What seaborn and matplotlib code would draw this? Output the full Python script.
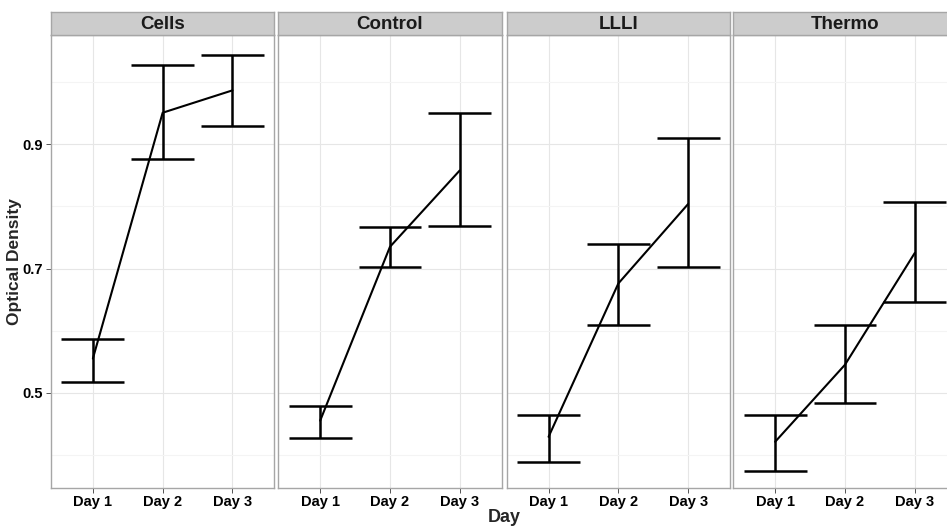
import numpy as np
import pandas as pd
import matplotlib
matplotlib.use("Agg")
import matplotlib.pyplot as plt
from matplotlib.ticker import FixedLocator
import seaborn as sns

# ---- data ----
groups = ["Cells", "Control", "LLLI", "Thermo"]
days = ["Day 1", "Day 2", "Day 3"]

cells_mean = [0.555, 0.951, 0.987]
cells_lo = [0.518, 0.876, 0.929]
cells_hi = [0.587, 1.028, 1.044]

control_mean = [0.455, 0.735, 0.858]
control_lo = [0.427, 0.703, 0.769]
control_hi = [0.479, 0.767, 0.950]

llli_mean = [0.429, 0.676, 0.804]
llli_lo = [0.388, 0.609, 0.703]
llli_hi = [0.464, 0.740, 0.910]

thermo_mean = [0.421, 0.545, 0.725]
thermo_lo = [0.374, 0.484, 0.646]
thermo_hi = [0.464, 0.609, 0.808]

y_major = [0.5, 0.7, 0.9]
y_minor = [0.4, 0.6, 0.8, 1.0]

means = [cells_mean, control_mean, llli_mean, thermo_mean]
los = [cells_lo, control_lo, llli_lo, thermo_lo]
his = [cells_hi, control_hi, llli_hi, thermo_hi]

rows = []
for g, m, lo, hi in zip(groups, means, los, his):
    for i, d in enumerate(days):
        rows.append({"Group": g, "Day": d, "pos": i, "mean": m[i], "lo": lo[i], "hi": hi[i]})
df = pd.DataFrame(rows)

# ---- styling ----
sns.set_theme(style="white")
plt.rcParams["font.family"] = ["Liberation Sans", "DejaVu Sans"]
plt.rcParams["font.weight"] = "bold"

W, H = 947, 527
fig = plt.figure(figsize=(W / 100, H / 100), dpi=100)
fig.patch.set_facecolor("white")

panel_left = [51, 278.3, 506.7, 733.3]
panel_w = 223.3
plot_top = 34.5
plot_bot = 487.7
strip_top = 11.7

border_col = "#A6A6A6"
for k, g in enumerate(groups):
    x0 = panel_left[k] / W
    ax = fig.add_axes([x0, 1 - plot_bot / H, panel_w / W, (plot_bot - plot_top) / H])
    sub = df[df["Group"] == g]
    ax.set_facecolor("white")
    sns.lineplot(data=sub, x="pos", y="mean", ax=ax, color="black", linewidth=1.5,
                 errorbar=None, sort=False, zorder=3)
    ax.vlines(sub["pos"], sub["lo"], sub["hi"], color="black", linewidth=1.8, zorder=3)
    ax.hlines(sub["lo"], sub["pos"] - 0.45, sub["pos"] + 0.45, color="black", linewidth=1.8, zorder=3)
    ax.hlines(sub["hi"], sub["pos"] - 0.45, sub["pos"] + 0.45, color="black", linewidth=1.8, zorder=3)

    ax.set_xlim(-0.6, len(days) - 1 + 0.6)
    ax.set_ylim(0.347, 1.077)
    ax.set_xticks(range(len(days)))
    ax.set_xticklabels(days, fontsize=10.5, fontweight="bold", color="black")
    ax.yaxis.set_major_locator(FixedLocator(y_major))
    ax.yaxis.set_minor_locator(FixedLocator(y_minor))
    ax.grid(True, which="major", color="#E6E6E6", linewidth=0.8)
    ax.grid(True, which="minor", axis="y", color="#F4F4F4", linewidth=0.8)
    ax.set_axisbelow(True)
    ax.tick_params(axis="x", length=3.5, width=0.7, color="#555555", pad=2, direction="out", bottom=True)
    if k == 0:
        ax.set_yticklabels([f"{v:.1f}" for v in y_major], fontsize=10.5, fontweight="bold", color="black")
        ax.tick_params(axis="y", which="major", length=3.5, width=0.7, color="#555555", pad=2,
                       direction="out", left=True)
        ax.tick_params(axis="y", which="minor", length=0)
    else:
        ax.tick_params(axis="y", which="both", left=False, labelleft=False)
    ax.set_xlabel("")
    ax.set_ylabel("")
    for s in ax.spines.values():
        s.set_color(border_col)
        s.set_linewidth(1.0)

    # strip
    sax = fig.add_axes([x0, 1 - plot_top / H, panel_w / W, (plot_top - strip_top) / H])
    sax.set_facecolor("#CCCCCC")
    sax.set_xticks([])
    sax.set_yticks([])
    for s in sax.spines.values():
        s.set_color(border_col)
        s.set_linewidth(1.0)
    sax.text(0.5, 0.45, g, transform=sax.transAxes, ha="center", va="center",
             fontsize=13.5, fontweight="bold", color="#1A1A1A")

fig.text(504 / W, 1 - 518 / H, "Day", ha="center", va="center", fontsize=13, fontweight="bold")
fig.text(14 / W, 1 - 262 / H, "Optical Density", ha="center", va="center", rotation=90,
         fontsize=12.5, fontweight="bold")

fig.savefig("out.png", dpi=100, facecolor="white")
